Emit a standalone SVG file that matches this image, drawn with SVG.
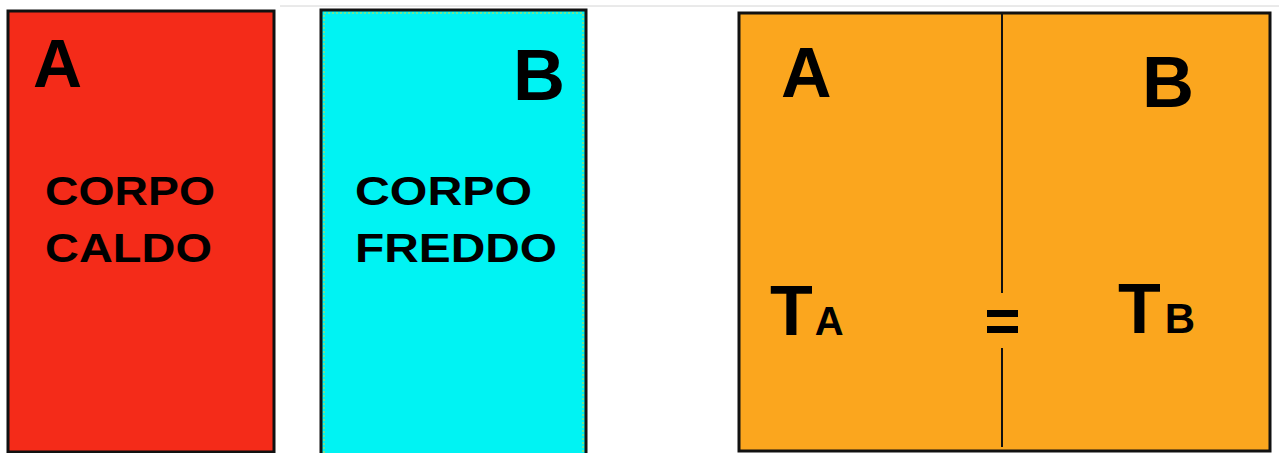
<svg xmlns="http://www.w3.org/2000/svg" width="1279" height="453" viewBox="0 0 1279 453">
<style>
  .box { stroke: #111; stroke-width: 3; }
  .big { font-family: "Liberation Sans", Arial, sans-serif; font-weight: bold; fill: #000; }
  .lbl { font-family: "Liberation Sans", Arial, sans-serif; font-weight: bold; font-size: 40px; fill: #000; }
</style>
<rect x="0" y="0" width="1279" height="453" fill="#ffffff"/>
<line x1="280" y1="6" x2="1279" y2="6" stroke="#d4d4d4" stroke-width="1"/>

<g id="bodyA">
  <rect class="box" x="8" y="11" width="266" height="441" fill="#f42b19"/>
  <text class="big" x="33" y="87" font-size="68">A</text>
  <text class="lbl" x="45" y="205" textLength="170" lengthAdjust="spacingAndGlyphs">CORPO</text>
  <text class="lbl" x="45" y="262" textLength="167" lengthAdjust="spacingAndGlyphs">CALDO</text>
</g>

<g id="bodyB">
  <rect class="box" x="321" y="10" width="265" height="445" fill="#00f3f3"/>
  <rect x="324" y="13" width="259" height="445" fill="none" stroke="#e6d82a" stroke-width="1" stroke-dasharray="2 2"/>
  <text class="big" x="513" y="100" font-size="72">B</text>
  <text class="lbl" x="355" y="205" textLength="177" lengthAdjust="spacingAndGlyphs">CORPO</text>
  <text class="lbl" x="355" y="262" textLength="202" lengthAdjust="spacingAndGlyphs">FREDDO</text>
</g>

<g id="equilibrium">
  <rect class="box" x="739" y="13" width="531" height="438" fill="#fba61e"/>
  <text class="big" x="781" y="97" font-size="70">A</text>
  <text class="big" x="1142" y="107" font-size="72">B</text>
  <text class="big" x="770" y="335" font-size="70">T<tspan font-size="40" dx="2">A</tspan></text>
  <text class="big" x="1118" y="333" font-size="70">T<tspan font-size="42" dx="4">B</tspan></text>
</g>

<g id="connectors">
  <line x1="1002" y1="13" x2="1002" y2="293" stroke="#111" stroke-width="2"/>
  <line x1="1002" y1="348" x2="1002" y2="447" stroke="#111" stroke-width="2"/>
  <rect x="987" y="310" width="31" height="7" fill="#000"/>
  <rect x="987" y="326" width="31" height="7" fill="#000"/>
</g>
</svg>
